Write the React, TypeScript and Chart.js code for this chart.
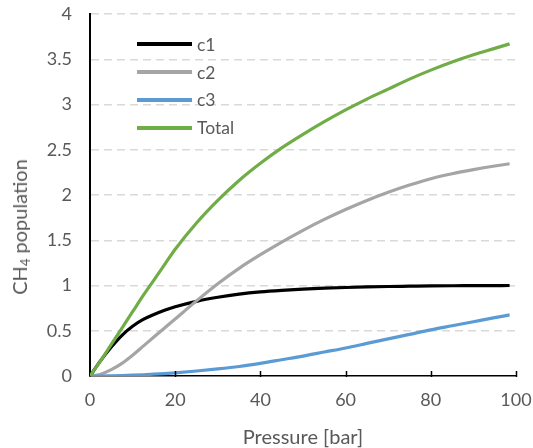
import React, { useEffect, useRef } from "react";
import { Chart, registerables } from "chart.js";

Chart.register(...registerables);

const pressure = [0, 2.5, 5, 7.5, 10, 12.5, 15, 17.5, 20, 25, 30, 35, 40, 45, 50, 55, 60, 65, 70, 75, 80, 85, 90, 95, 98.5];
const c1 = [0, 0.17, 0.32, 0.45, 0.55, 0.625, 0.68, 0.727, 0.765, 0.825, 0.87, 0.905, 0.93, 0.947, 0.96, 0.97, 0.978, 0.984, 0.989, 0.992, 0.995, 0.997, 0.998, 0.999, 1.0];
const c2 = [0, 0.02, 0.07, 0.14, 0.23, 0.33, 0.43, 0.53, 0.63, 0.83, 1.02, 1.19, 1.34, 1.48, 1.61, 1.73, 1.84, 1.94, 2.03, 2.11, 2.18, 2.235, 2.28, 2.32, 2.345];
const c3 = [0, 0, 0.002, 0.005, 0.009, 0.014, 0.02, 0.027, 0.035, 0.055, 0.078, 0.105, 0.14, 0.18, 0.22, 0.265, 0.31, 0.36, 0.41, 0.46, 0.51, 0.555, 0.6, 0.645, 0.675];
const total = [0, 0.17, 0.35, 0.53, 0.71, 0.89, 1.06, 1.23, 1.4, 1.69, 1.94, 2.16, 2.35, 2.52, 2.67, 2.81, 2.94, 3.06, 3.17, 3.28, 3.38, 3.47, 3.55, 3.62, 3.67];

const seriesNames = ["c1", "c2", "c3", "Total"];
const seriesValues = [c1, c2, c3, total];
const seriesColors = ["#000000", "#a5a5a5", "#5b9bd5", "#70ad47"];
const xTickValues = [20, 40, 60, 80, 100];

const FONT = "Lato, 'Open Sans', sans-serif";
const TEXT = "#595959";

const innerTicks = {
  id: "innerTicks",
  afterDraw(chart: any) {
    const x = chart.scales.x;
    const ctx = chart.ctx;
    const bottom = chart.chartArea.bottom;
    ctx.save();
    ctx.strokeStyle = "#000";
    ctx.lineWidth = 1.5;
    xTickValues.forEach((v) => {
      const px = Math.round(x.getPixelForValue(v)) + 0.5;
      ctx.beginPath();
      ctx.moveTo(px, bottom + 1);
      ctx.lineTo(px, bottom - 5);
      ctx.stroke();
    });
    ctx.restore();
  },
};

export default function App() {
  const ref = useRef<HTMLCanvasElement>(null);

  useEffect(() => {
    if (!ref.current) return;
    const chart = new Chart(ref.current, {
      type: "line",
      data: {
        datasets: seriesNames.map((name, i) => ({
          label: name,
          data: pressure.map((p, j) => ({ x: p, y: seriesValues[i][j] })),
          borderColor: seriesColors[i],
          backgroundColor: seriesColors[i],
          borderWidth: 3.2,
          pointRadius: 0,
          cubicInterpolationMode: "monotone" as const,
          fill: false,
          order: seriesNames.length - i,
        })),
      },
      options: {
        animation: false,
        responsive: true,
        maintainAspectRatio: false,
        layout: { padding: { left: 0, top: 14, right: 17, bottom: 0 } },
        plugins: {
          legend: { display: false },
          tooltip: { enabled: false },
        },
        scales: {
          x: {
            type: "linear",
            min: 0,
            max: 100,
            afterFit: (s: any) => {
              s.height = 72;
              s.paddingLeft = 0;
              s.paddingRight = 0;
            },
            ticks: {
              stepSize: 20,
              color: TEXT,
              font: { family: FONT, size: 18 },
              padding: 13,
              maxRotation: 0,
            },
            grid: { display: false, drawTicks: false },
            border: { display: true, color: "#000", width: 1.5 },
            title: {
              display: true,
              text: "Pressure [bar]",
              color: TEXT,
              font: { family: FONT, size: 20 },
              padding: { top: 0, bottom: -2 },
            },
          },
          y: {
            min: 0,
            max: 4,
            afterFit: (s: any) => {
              s.width = 90;
              s.paddingTop = 0;
              s.paddingBottom = 0;
            },
            ticks: {
              stepSize: 0.5,
              color: TEXT,
              font: { family: FONT, size: 18 },
              padding: 18,
              callback: (v: any) => String(Number(v)),
            },
            grid: {
              drawTicks: false,
              color: (c: any) => (c.tick && c.tick.value === 0 ? "rgba(0,0,0,0)" : "#d9d9d9"),
              lineWidth: 1.5,
            },
            border: { display: true, color: "#000", width: 2, dash: [8, 5] },
          },
        },
      },
      plugins: [innerTicks],
    });
    return () => chart.destroy();
  }, []);

  return (
    <div style={{ position: "fixed", left: 0, top: 0, width: 533, height: 448, background: "#fff", fontFamily: FONT }}>
      <canvas ref={ref} />
      <div
        style={{
          position: "absolute",
          left: 22,
          top: 227,
          transform: "translate(-50%, -50%) rotate(-90deg)",
          whiteSpace: "nowrap",
          color: TEXT,
          fontSize: 20,
          lineHeight: "24px",
        }}
      >
        CH<sub style={{ fontSize: 13, verticalAlign: "-3px" }}>4</sub> population
      </div>
      {seriesNames.map((name, i) => (
        <div
          key={name}
          style={{
            position: "absolute",
            left: 137,
            top: 44.3 + i * 27.8 - 11,
            height: 22,
            display: "flex",
            alignItems: "center",
            color: TEXT,
            fontSize: 17.5,
          }}
        >
          <span style={{ display: "inline-block", width: 55, height: 3.8, background: seriesColors[i], marginRight: 5 }} />
          <span>{name}</span>
        </div>
      ))}
    </div>
  );
}
